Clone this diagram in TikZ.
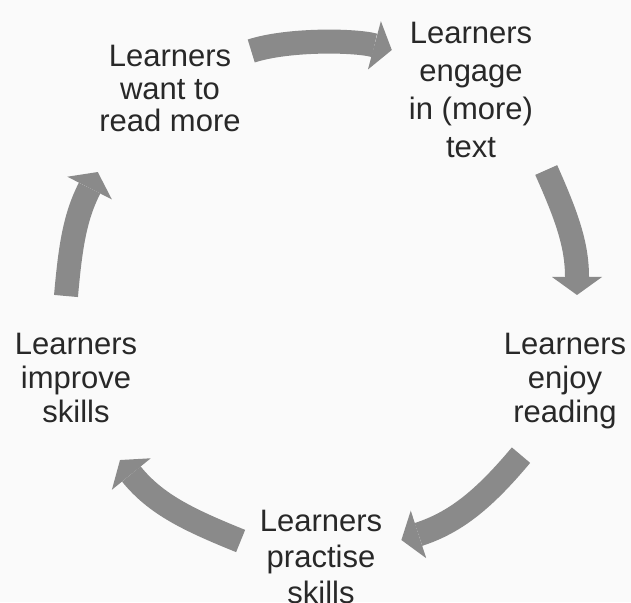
\documentclass[tikz,border=0pt]{standalone}
\usepackage{fontspec}
\setmainfont{Liberation Sans}
\usetikzlibrary{arrows.meta}
\definecolor{cycgray}{RGB}{138,138,138}
\definecolor{inkgray}{RGB}{40,40,40}
\definecolor{paper}{RGB}{250,250,250}

\begin{document}
\begin{tikzpicture}[x=1pt, y=1pt,
    stage/.style={font=\fontsize{31}{#1}\selectfont, text=inkgray, align=center, inner sep=0pt, anchor=north},
    stage/.default=34,
    cyclearrow/.style={draw=cycgray, line width=24pt, -{Triangle[length=18pt, width=50pt, line width=0pt]}}]
    \useasboundingbox (0,0) rectangle (631,602);
    \clip (0,0) rectangle (631,602);
    \fill[paper] (0,0) rectangle (631,602);

    \node[stage=32.5] (want) at (170,557) {Learners\\want to\\read more};
    \node[stage=38] (engage) at (471,580) {Learners\\engage\\in (more)\\text};
    \node[stage] (enjoy) at (565,269) {Learners\\enjoy\\reading};
    \node[stage=36] (practise) at (321,92) {Learners\\practise\\skills};
    \node[stage] (improve) at (76,269) {Learners\\improve\\skills};

    \draw[cyclearrow] ([shift={(10.4,-6)}]want.north east) to[out=18, in=165, looseness=0.7] ([shift={(-17,-28)}]engage.north west);
    \draw[cyclearrow] ([shift={(13,-12)}]engage.south east) to[out=-66, in=90] ([shift={(12,38)}]enjoy.north);
    \draw[cyclearrow] ([shift={(-44,-26)}]enjoy.south) to[out=-130, in=18] ([shift={(19,-30)}]practise.north east);
    \draw[cyclearrow] ([shift={(-19,-31)}]practise.north west) to[out=158, in=-51] ([shift={(44,-37)}]improve.south);
    \draw[cyclearrow] ([shift={(-10,37)}]improve.north) to[out=85, in=-117] ([shift={(-1.4,-40)}]want.south west);
\end{tikzpicture}
\end{document}
